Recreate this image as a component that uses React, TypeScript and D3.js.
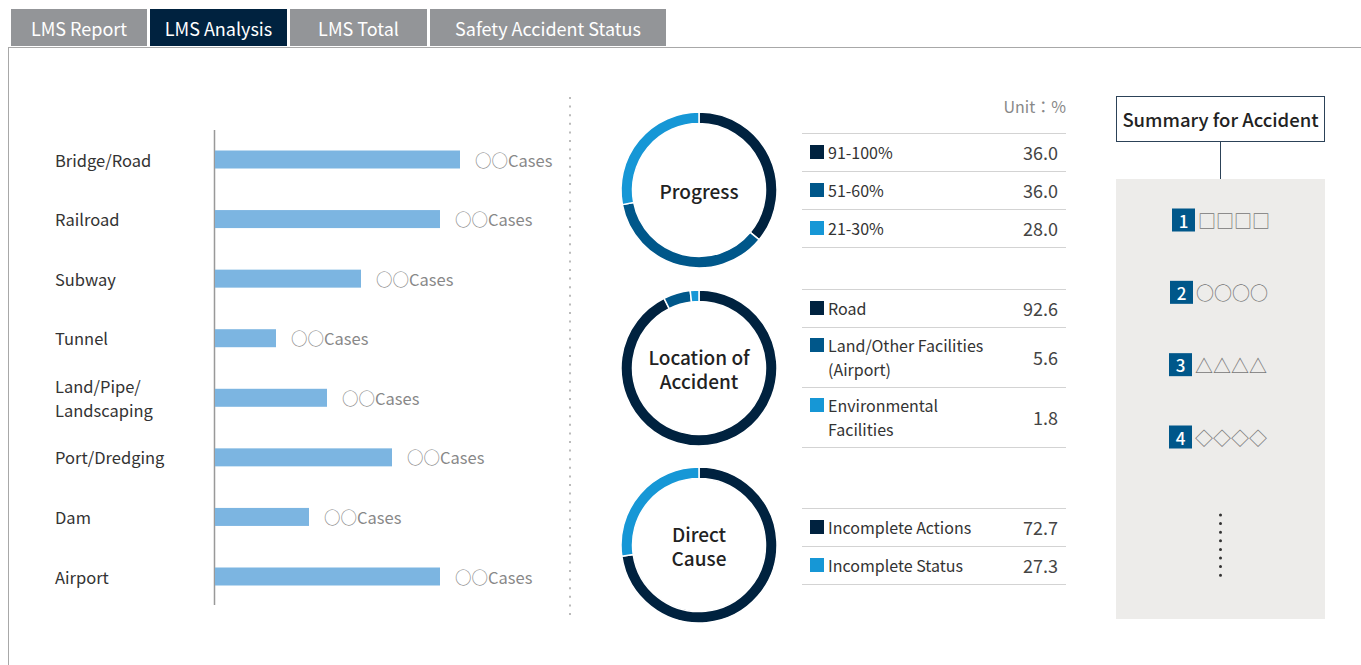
import * as d3 from 'd3';

const tabs = ['LMS Report', 'LMS Analysis', 'LMS Total', 'Safety Accident Status'];
const activeTab = 'LMS Analysis';

const barCategories = ['Bridge/Road', 'Railroad', 'Subway', 'Tunnel', 'Land/Pipe/\nLandscaping', 'Port/Dredging', 'Dam', 'Airport'];
const barValues = [245, 225, 146, 61, 112, 177, 94, 225];
const barCaption = '○○Cases';

const progressLabels = ['91-100%', '51-60%', '21-30%'];
const progressValues = [36.0, 36.0, 28.0];
const locationLabels = ['Road', 'Land/Other Facilities\n(Airport)', 'Environmental\nFacilities'];
const locationValues = [92.6, 5.6, 1.8];
const causeLabels = ['Incomplete Actions', 'Incomplete Status'];
const causeValues = [72.7, 27.3];

const summaryMarks = ['□□□□', '○○○○', '△△△△', '◇◇◇◇'];

const W = 1361;
const H = 665;
const FONT = '"Noto Sans CJK KR", "Noto Sans", sans-serif';
const NAVY = '#00223f';
const MID = '#00578a';
const LIGHT = '#1697d6';

const donuts = [
  { title: 'Progress', labels: progressLabels, values: progressValues, colors: [NAVY, MID, LIGHT], cy: 190, tableTop: 133 },
  { title: 'Location of\nAccident', labels: locationLabels, values: locationValues, colors: [NAVY, MID, LIGHT], cy: 368, tableTop: 289 },
  { title: 'Direct\nCause', labels: causeLabels, values: causeValues, colors: [NAVY, LIGHT], cy: 545, tableTop: 508 },
];

function Donut({ d }: { d: typeof donuts[number] }) {
  const cx = 699;
  const pie = d3.pie<number>().sort(null).value(v => v)(d.values);
  const arc = d3.arc<d3.PieArcDatum<number>>().innerRadius(66.5).outerRadius(78);
  const titleLines = d.title.split('\n');
  const tx0 = 802, tx1 = 1066;
  let y = d.tableTop;
  const rows = d.labels.map((lab, i) => {
    const lines = lab.split('\n');
    const h = lines.length > 1 ? 60 : 38;
    const r = { lines, top: y, h, value: d.values[i], color: d.colors[i] };
    y += h;
    return r;
  });
  return (
    <g>
      <g transform={`translate(${cx},${d.cy})`}>
        {pie.map((p, i) => (
          <path key={i} d={arc(p) || ''} fill={d.colors[i]} stroke="#fff" strokeWidth={1.5} />
        ))}
        {titleLines.map((t, i) => (
          <text key={i} y={(i - (titleLines.length - 1) / 2) * 24} textAnchor="middle" dominantBaseline="central"
            fontSize={19} fontWeight={500} fill="#222">{t}</text>
        ))}
      </g>
      <line x1={tx0} x2={tx1} y1={d.tableTop + 0.5} y2={d.tableTop + 0.5} stroke="#d3d3d3" />
      {rows.map((r, i) => {
        const mid = r.top + r.h / 2;
        const firstY = r.lines.length > 1 ? mid - 12 : mid;
        return (
          <g key={i}>
            <rect x={810} y={firstY - 7} width={14} height={14} fill={r.color} />
            {r.lines.map((l, j) => (
              <text key={j} x={828} y={firstY + j * 24} dominantBaseline="central" fontSize={16} fill="#333">{l}</text>
            ))}
            <text x={1058} y={mid} textAnchor="end" dominantBaseline="central" fontSize={18} fill="#444">{r.value.toFixed(1)}</text>
            <line x1={tx0} x2={tx1} y1={r.top + r.h + 0.5} y2={r.top + r.h + 0.5} stroke="#d3d3d3" />
          </g>
        );
      })}
    </g>
  );
}

export default function App() {
  const tabX = d3.scaleOrdinal<string, [number, number]>()
    .domain(tabs)
    .range([[11, 147], [150, 287], [290, 427], [430, 666]]);

  const y = d3.scalePoint<string>().domain(barCategories).range([159.5, 576.5]);
  const x = d3.scaleLinear().domain([0, 245]).range([215, 460]);

  const badgeY = d3.scalePoint<string>().domain(summaryMarks).range([220, 437]);

  return (
    <svg width={W} height={H} style={{ position: 'absolute', left: 0, top: 0, fontFamily: FONT, background: '#fff' }}>
      {/* tabs */}
      {tabs.map(t => {
        const [a, b] = tabX(t);
        return (
          <g key={t}>
            <rect x={a} y={9} width={b - a} height={37} fill={t === activeTab ? NAVY : '#939598'} />
            <text x={(a + b) / 2} y={27.5} textAnchor="middle" dominantBaseline="central" fontSize={18} fill="#fff">{t}</text>
          </g>
        );
      })}
      <line x1={8} x2={W} y1={47.5} y2={47.5} stroke="#a8a8a8" />
      <line x1={8.5} x2={8.5} y1={47} y2={H} stroke="#a8a8a8" />

      {/* bar chart */}
      <line x1={214.5} x2={214.5} y1={130} y2={605} stroke="#999" strokeWidth={1.5} />
      {barCategories.map((c, i) => {
        const cy = y(c)!;
        const lines = c.split('\n');
        return (
          <g key={c}>
            {lines.map((l, j) => (
              <text key={j} x={55} y={cy + (j - (lines.length - 1) / 2) * 24} dominantBaseline="central" fontSize={16.5} fill="#333">{l}</text>
            ))}
            <rect x={x(0)} y={cy - 9} width={x(barValues[i]) - x(0)} height={18} fill="#7cb5e1" />
            <text x={x(barValues[i]) + 15} y={cy} dominantBaseline="central" fontSize={16.5} fill="#888">{barCaption}</text>
          </g>
        );
      })}
      <line x1={570} x2={570} y1={97} y2={621} stroke="#bbb" strokeWidth={2} strokeDasharray="2 6.6" />

      {/* donuts */}
      <text x={1066} y={106} textAnchor="end" dominantBaseline="central" fontSize={16} fill="#888">Unit：%</text>
      {donuts.map(d => <Donut key={d.title} d={d} />)}

      {/* summary */}
      <rect x={1116.5} y={96.5} width={208} height={45} fill="#fff" stroke="#2c4258" />
      <text x={1220.5} y={119} textAnchor="middle" dominantBaseline="central" fontSize={18.5} fontWeight={500} fill="#222">Summary for Accident</text>
      <line x1={1220.5} x2={1220.5} y1={142} y2={179} stroke="#2c4258" />
      <rect x={1116} y={179} width={209} height={440} fill="#edecea" />
      {summaryMarks.map((m, i) => {
        const cy = badgeY(m)!;
        const bx = i === 0 ? 1172 : i === 1 ? 1170 : 1169;
        return (
          <g key={m}>
            <rect x={bx} y={cy - 11.5} width={23} height={23} fill={MID} />
            <text x={bx + 11.5} y={cy} textAnchor="middle" dominantBaseline="central" fontSize={17} fontWeight={500} fill="#fff">{i + 1}</text>
            <text x={bx + 26} y={cy} dominantBaseline="central" fontSize={18} fill="#777">{m}</text>
          </g>
        );
      })}
      <line x1={1220.5} x2={1220.5} y1={515} y2={576} stroke="#333" strokeWidth={3} strokeLinecap="round" strokeDasharray="0 8.6" />
    </svg>
  );
}
